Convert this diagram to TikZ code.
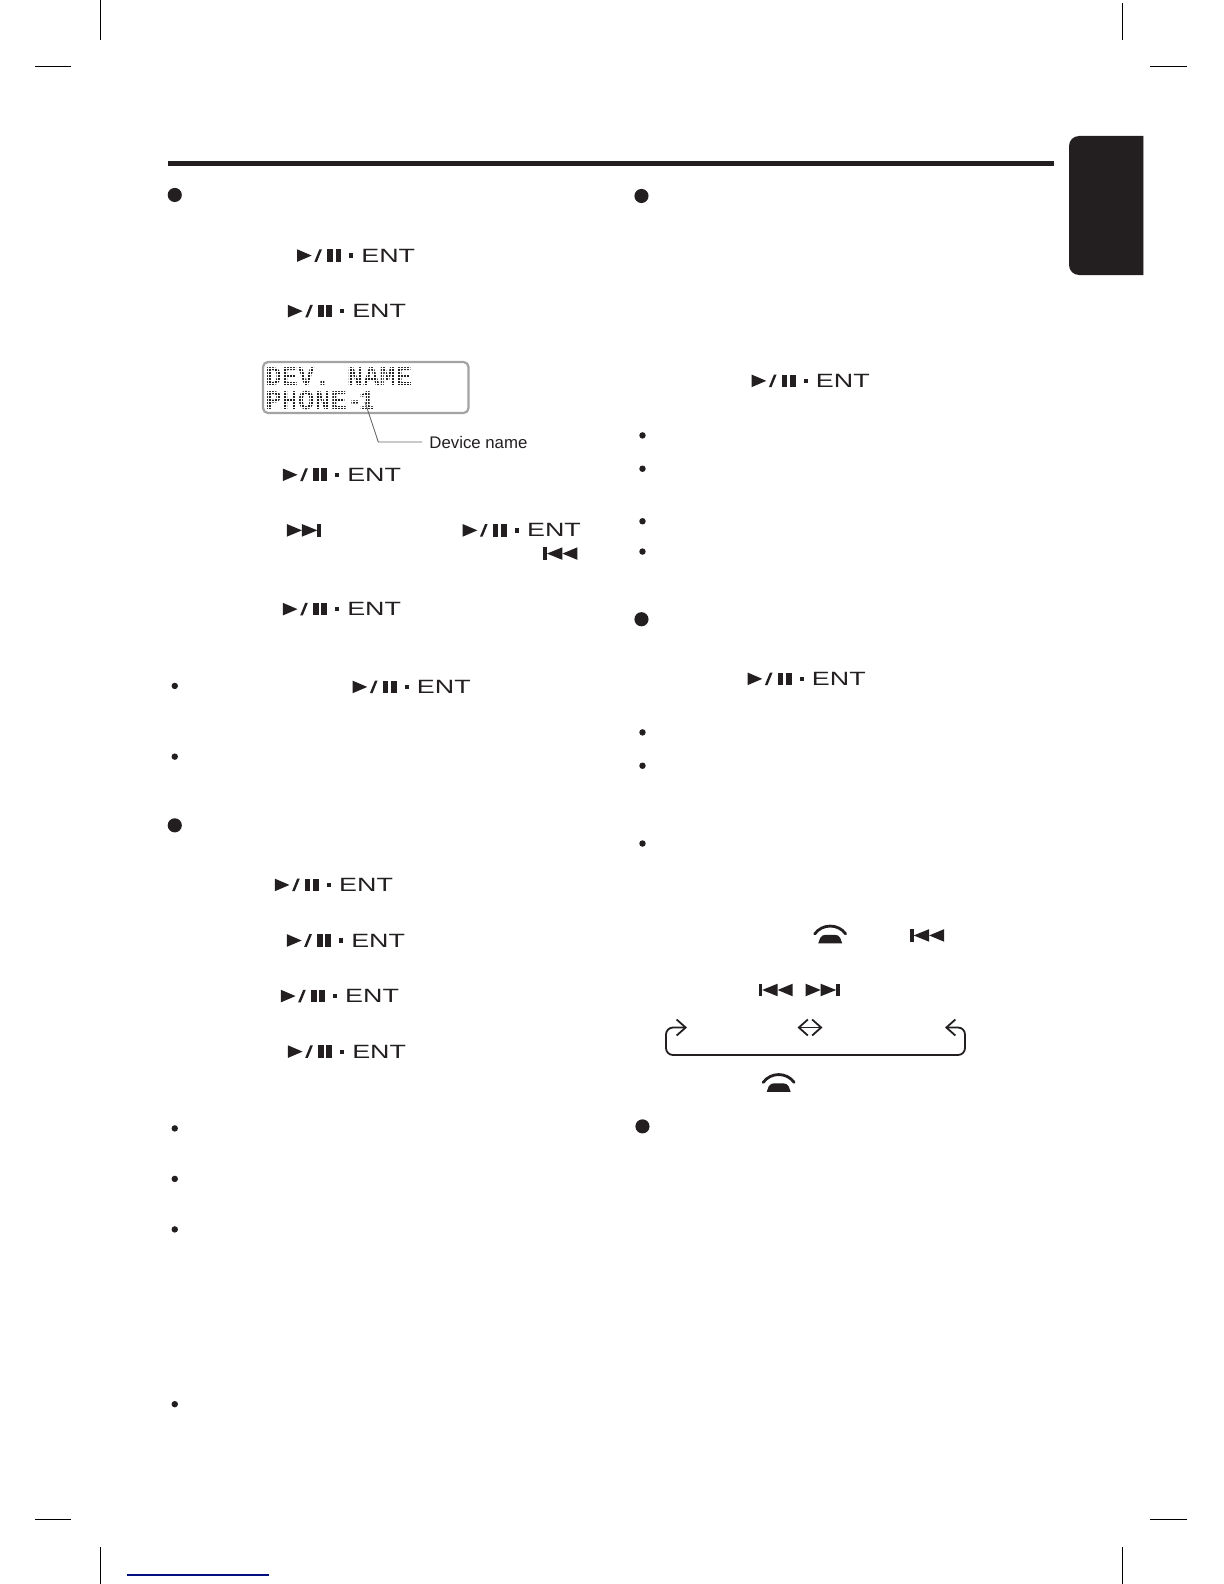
\documentclass[tikz,border=0pt]{standalone}
\usepackage{fontspec}
\setmainfont{Liberation Sans}
\newfontfamily\entfont[FakeStretch=1.4]{Liberation Sans}
\newfontfamily\lcdfont{Liberation Mono}
\usetikzlibrary{arrows.meta}
\definecolor{ink}{HTML}{231F20}
\definecolor{lcdedge}{HTML}{A3A3A3}
\definecolor{lcdtext}{HTML}{222222}
\definecolor{leader}{HTML}{666666}
\definecolor{linkblue}{HTML}{00107F}
\tikzset{
  x=0.5pt,y=-0.5pt,
  cropmark/.style={draw=black,line width=0.5pt},
  bigdot/.style={fill=ink},
  smalldot/.style={fill=ink},
  flowline/.style={draw=ink,line width=0.9pt,line join=round},
  barb/.style={{Straight Barb[length=4.5pt,width=8pt,line width=0.9pt]}-{Straight Barb[length=4.5pt,width=8pt,line width=0.9pt]}},
  lcdstyle/.style={anchor=west,inner sep=0pt,text=lcdtext,font=\lcdfont\bfseries\fontsize{13.6pt}{13.6pt}\selectfont},
  entbtn/.pic={
    \fill[ink] (0,-6.3) -- (14.7,0) -- (0,6.3) -- cycle;
    \fill[ink] (17.3,6.3) -- (19.9,6.3) -- (25,-6.3) -- (22.4,-6.3) -- cycle;
    \fill[ink] (30.2,-6.3) rectangle (35.7,6.3);
    \fill[ink] (38.5,-6.3) rectangle (44.2,6.3);
    \fill[ink] (52,-2.1) rectangle (56.3,2.2);
    \node[anchor=west,inner sep=0pt,text=ink,font=\entfont\fontsize{9.6pt}{9.6pt}\selectfont] (-t) at (64,0) {ENT};
  },
  nexticon/.pic={
    \fill[ink] (0,-6.3) -- (15,0) -- (0,6.3) -- cycle;
    \fill[ink] (15,-6.3) -- (30.5,0) -- (15,6.3) -- cycle;
    \fill[ink] (30.5,-6.3) rectangle (34,6.3);
  },
  previcon/.pic={
    \fill[ink] (0,-6.3) rectangle (3.5,6.3);
    \fill[ink] (3.5,0) -- (19,-6.3) -- (19,6.3) -- cycle;
    \fill[ink] (19,0) -- (34,-6.3) -- (34,6.3) -- cycle;
  },
  phoneicon/.pic={
    \draw[ink,line width=1.4pt,line cap=round] (1.5,-0.5) .. controls (9,-11) and (25,-11) .. (32.5,-0.5);
    \fill[ink] (5,9) -- (29,9) -- (27,3.5) .. controls (25.5,1) and (24,0.5) .. (22,0.5) -- (12,0.5) .. controls (10,0.5) and (8.5,1) .. (7,3.5) -- cycle;
  },
}
\begin{document}
\begin{tikzpicture}
\useasboundingbox (0,0) rectangle (1224,1584);
% crop marks and link rule
\draw[cropmark] (100,0) -- (100,40);
\draw[cropmark] (1122,3) -- (1122,40);
\draw[cropmark] (35,67) -- (71,67);
\draw[cropmark] (1150,67) -- (1187,67);
\draw[cropmark] (35,1519) -- (71,1519);
\draw[cropmark] (1150,1519) -- (1187,1519);
\draw[cropmark] (100,1547) -- (100,1584);
\draw[cropmark] (1122,1547) -- (1122,1584);
\draw[linkblue,line width=0.6pt] (127,1575) -- (269,1575);
% header rule and tab
\fill[ink] (168,161) rectangle (1054,165.7);
\fill[ink] (1143,136) [rounded corners=5pt] -- (1069,136) -- (1069,275) [sharp corners] -- (1143,275) -- cycle;
\draw[lcdedge,line width=0.4pt] (1143.4,136) -- (1143.4,275);
% big section dots
\begin{scope}[scale=1.0102]
\foreach \p in {(173,193),(635,194),(635,613),(173,817),(636,1115)}
  \fill[bigdot] \p circle[radius=7];
\foreach \p in {(173,679),(173,749),(636,431),(636,464),(636,516),(636,546),(636,725),(636,758),(636,835),(173,1117),(173,1167),(173,1217),(173,1390)}
  \fill[smalldot] \p circle[radius=3.2];
% play/pause ENT buttons
\pic (b1) at (294,253) {entbtn};
\pic (b2) at (285,308) {entbtn};
\pic (b3) at (280,470) {entbtn};
\pic (b4) at (458,525) {entbtn};
\pic (b5) at (280,603) {entbtn};
\pic (b6) at (349,680) {entbtn};
\pic (b7) at (272,876) {entbtn};
\pic (b8) at (284,931) {entbtn};
\pic (b9) at (278,986) {entbtn};
\pic (b10) at (285,1041) {entbtn};
\pic (b11) at (744,377) {entbtn};
\pic (b12) at (740,672) {entbtn};
% track icons
\pic at (284,525) {nexticon};
\pic at (538,548) {previcon};
\pic at (901,926) {previcon};
\pic at (751,980) {previcon};
\pic at (797.5,980) {nexticon};
% phone icons
\pic at (805,925) {phoneicon};
\pic at (754,1072) {phoneicon};
\end{scope}
% LCD panel
\node[lcdstyle] (lcda) at (265,376.5) {DEV. NAME};
\node[lcdstyle] (lcdb) at (265,401) {PHONE-\kern-2.25pt 1};
% dot matrix screen over the LCD text
\foreach \g in {0,...,67}
  \draw[white,line width=0.35pt] ({265+3*\g},364) -- ({265+3*\g},411);
\foreach \g in {0,...,15}
  \draw[white,line width=0.35pt] (264,{365+3*\g}) -- (467,{365+3*\g});
\draw[lcdedge,line width=1.1pt,rounded corners=2.5pt] (263,362) rectangle (468.5,413);
\node[anchor=west,inner sep=0pt,text=ink,font=\fontsize{8.4pt}{8.4pt}\selectfont] (devname) at (429,442) {Device name};
\coordinate (leadstart) at (365,402);
\draw[leader,line width=0.45pt] (leadstart) -- (378.3,442) -- ([xshift=-3.5pt]devname.west);
% mode loop
\coordinate (loopl) at (687,1027.5);
\coordinate (loopr) at (945,1027.5);
\coordinate (loopc1) at (797.5,1027.5);
\coordinate (loopc2) at (822.5,1027.5);
\draw[flowline,rounded corners=3.5pt,barb] (loopl) -- (666,1027.5) -- (666,1055) -- (965,1055) -- (965,1027.5) -- (loopr);
\draw[flowline,barb] (loopc1) -- (loopc2);
\end{tikzpicture}
\end{document}
